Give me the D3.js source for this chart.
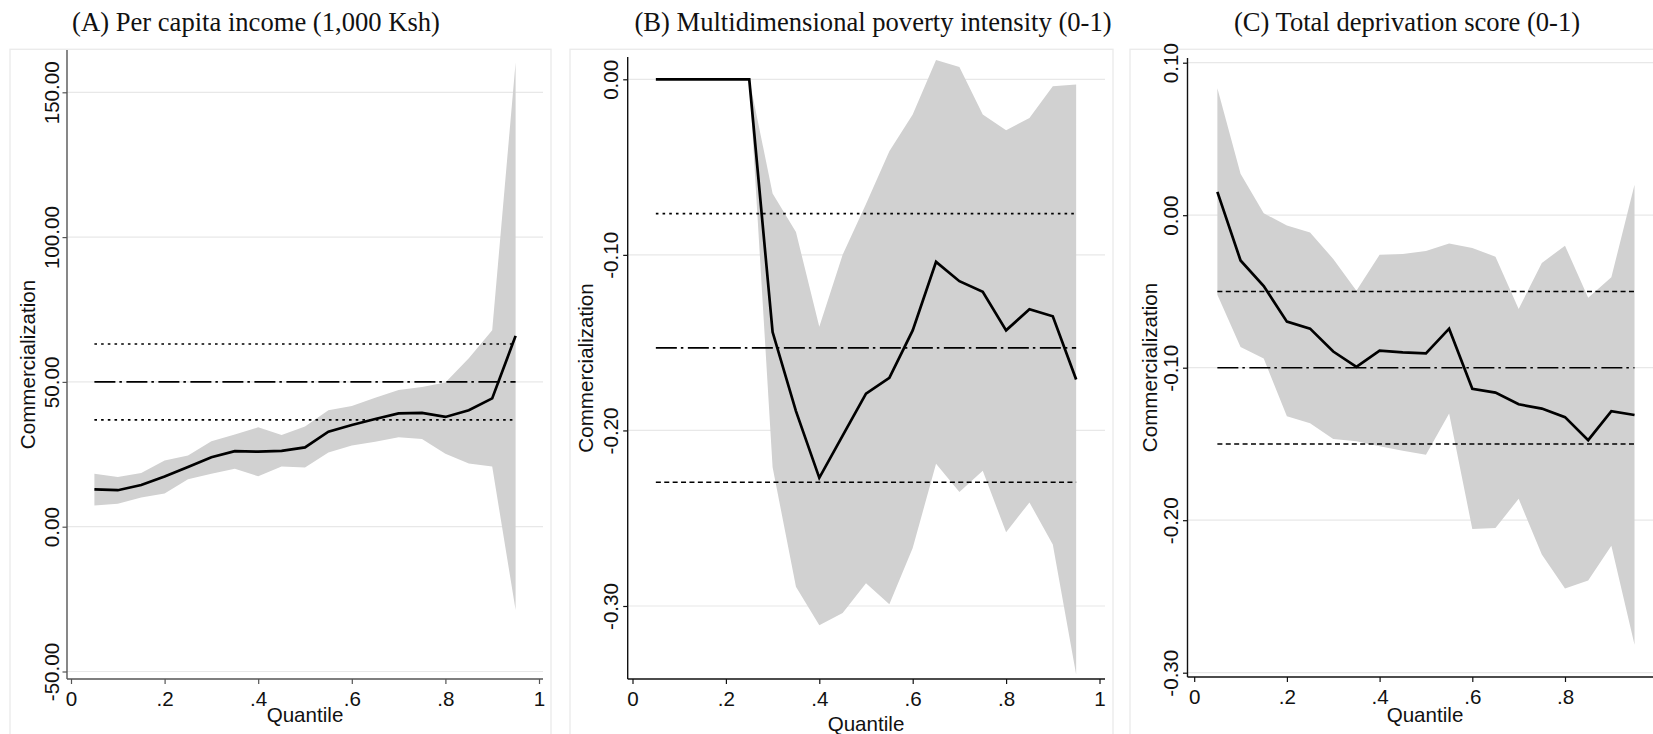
<!DOCTYPE html>
<html>
<head>
<meta charset="utf-8">
<script src="https://cdn.jsdelivr.net/npm/d3@7"></script>
<style>
  html, body { margin: 0; padding: 0; background: #fff; }
  svg { display: block; }
</style>
</head>
<body>
<div id="chart"></div>
<script>
// quantiles at which the regressions were run
const quantiles = [0.05, 0.10, 0.15, 0.20, 0.25, 0.30, 0.35, 0.40, 0.45, 0.50,
                   0.55, 0.60, 0.65, 0.70, 0.75, 0.80, 0.85, 0.90, 0.95];
const xTicks = [0, 0.2, 0.4, 0.6, 0.8, 1];
const xTickLabels = ["0", ".2", ".4", ".6", ".8", "1"];
const panelTitles = [
  "(A) Per capita income (1,000 Ksh)",
  "(B) Multidimensional poverty intensity (0-1)",
  "(C) Total deprivation score (0-1)"
];
const yTitle = "Commercialization";
const xTitle = "Quantile";

// (A) per capita income
const incomeCoef = [12.9, 12.6, 14.4, 17.3, 20.6, 24.0, 26.1, 25.9, 26.2, 27.4,
                    32.8, 35.1, 37.2, 39.1, 39.3, 37.9, 40.2, 44.3, 65.9];
const incomeHi = [18.3, 17.2, 18.5, 22.9, 24.6, 29.5, 31.8, 34.3, 31.7, 34.6,
                  40.2, 41.7, 44.5, 47.2, 48.2, 49.8, 58.2, 67.8, 160.3];
const incomeLo = [7.3, 7.9, 10.1, 11.5, 16.4, 18.3, 20.0, 17.4, 20.8, 20.4,
                  25.6, 28.0, 29.3, 30.9, 30.3, 25.2, 21.8, 20.8, -28.8];
const incomeOls = [36.9, 50.0, 63.1];   // lower CI, estimate, upper CI
const incomeTicks = [-50, 0, 50, 100, 150];

// (B) multidimensional poverty intensity
const mpiCoef = [0, 0, 0, 0, 0, -0.144, -0.189, -0.227, -0.203, -0.179,
                 -0.170, -0.143, -0.104, -0.115, -0.121, -0.143, -0.131, -0.135, -0.171];
const mpiHi = [0, 0, 0, 0, 0, -0.065, -0.087, -0.141, -0.100, -0.071,
               -0.041, -0.020, 0.011, 0.007, -0.020, -0.029, -0.022, -0.004, -0.003];
const mpiLo = [0, 0, 0, 0, 0, -0.221, -0.289, -0.311, -0.304, -0.287,
               -0.299, -0.267, -0.219, -0.235, -0.223, -0.258, -0.241, -0.265, -0.339];
const mpiOls = [-0.2295, -0.153, -0.0765];
const mpiTicks = [-0.3, -0.2, -0.1, 0];

// (C) total deprivation score
const depCoef = [0.0153, -0.0297, -0.0465, -0.0698, -0.0744, -0.0894, -0.0995, -0.0888, -0.0900, -0.0906,
                 -0.0744, -0.1138, -0.1163, -0.1240, -0.1268, -0.1324, -0.1475, -0.1285, -0.1310];
const depHi = [0.0832, 0.0272, 0.0013, -0.0068, -0.0113, -0.0287, -0.0495, -0.0260, -0.0254, -0.0235,
               -0.0186, -0.0215, -0.0272, -0.0615, -0.0313, -0.0200, -0.0542, -0.0407, 0.0199];
const depLo = [-0.0521, -0.0864, -0.0940, -0.1318, -0.1365, -0.1468, -0.1482, -0.1515, -0.1545, -0.1570,
               -0.1300, -0.2057, -0.2051, -0.1860, -0.2225, -0.2448, -0.2396, -0.2167, -0.2816];
const depOls = [-0.15, -0.10, -0.05];
const depTicks = [-0.3, -0.2, -0.1, 0, 0.1];

const DOT = "2.6,4.1", DASH = "5,3.4", DASHDOT = "21,4,2.5,4.5";

const panels = [
  { title: panelTitles[0], coef: incomeCoef, hi: incomeHi, lo: incomeLo, ols: incomeOls, ticks: incomeTicks,
    L: { x0: 10, x1: 551, titleX: 256, axisX: 67, axisTop: 50, axisY: 679, axisEnd: 543,
         xRange: [71, 539], yDom: [-50, 150], yRng: [671.5, 92.3], tickGap: 8, labelX: 35, qX: 305, qY: 721.5,
         dash: [DOT, DASHDOT, DOT], axisColor: "#555" } },
  { title: panelTitles[1], coef: mpiCoef, hi: mpiHi, lo: mpiLo, ols: mpiOls, ticks: mpiTicks,
    L: { x0: 570, x1: 1113, titleX: 873, axisX: 627.7, axisTop: 57, axisY: 679, axisEnd: 1105,
         xRange: [632.5, 1099.5], yDom: [-0.3, 0], yRng: [606, 79.3], tickGap: 10, labelX: 593.3, qX: 866, qY: 730.5,
         dash: [DASH, DASHDOT, DOT], axisColor: "#111" } },
  { title: panelTitles[2], coef: depCoef, hi: depHi, lo: depLo, ols: depOls, ticks: depTicks,
    L: { x0: 1130, x1: 1700, titleX: 1407, axisX: 1187.5, axisTop: 58, axisY: 677, axisEnd: 1662,
         xRange: [1194.2, 1657.7], yDom: [-0.3, 0.1], yRng: [672.7, 62.7], tickGap: 9.5, labelX: 1156.7, qX: 1425, qY: 721.5,
         dash: [DASH, DASHDOT, DASH], axisColor: "#111" } }
];

const width = 1653, height = 734;
const sans = "'Liberation Sans', Arial, sans-serif";
const serif = "'Liberation Serif', 'Times New Roman', serif";
const fmt = d3.formatLocale({ decimal: ".", thousands: ",", grouping: [3], currency: ["", ""], minus: "-" }).format(".2f");

const svg = d3.select("#chart").append("svg")
  .attr("width", width)
  .attr("height", height);

svg.append("rect").attr("width", width).attr("height", height).attr("fill", "#fff");

panels.forEach(p => {
  const L = p.L;
  const x = d3.scaleLinear().domain([0, 1]).range(L.xRange);
  const y = d3.scaleLinear().domain(L.yDom).range(L.yRng);
  const g = svg.append("g");

  // subgraph outline
  g.append("rect")
    .attr("x", L.x0).attr("y", 49.3)
    .attr("width", L.x1 - L.x0).attr("height", 800)
    .attr("fill", "none").attr("stroke", "#ebebeb").attr("stroke-width", 1.4);

  svg.append("text")
    .attr("x", L.titleX).attr("y", 31)
    .attr("text-anchor", "middle")
    .attr("font-family", serif).attr("font-size", 26.6)
    .attr("fill", "#111")
    .text(p.title);

  // gridlines
  g.append("g").selectAll("line").data(p.ticks).join("line")
    .attr("x1", L.axisX).attr("x2", L.axisEnd)
    .attr("y1", d => y(d)).attr("y2", d => y(d))
    .attr("stroke", "#e8e8e8").attr("stroke-width", 1.2);

  // confidence band
  const area = d3.area()
    .x((d, i) => x(quantiles[i]))
    .y0((d, i) => y(p.lo[i]))
    .y1((d, i) => y(p.hi[i]));
  g.append("path").datum(p.coef)
    .attr("d", area)
    .attr("fill", "#d1d1d1");

  // OLS estimate and its CI
  const qMin = quantiles[0], qMax = quantiles[quantiles.length - 1];
  g.append("g").selectAll("line").data(p.ols).join("line")
    .attr("x1", x(qMin)).attr("x2", x(qMax))
    .attr("y1", d => y(d)).attr("y2", d => y(d))
    .attr("stroke", "#000").attr("stroke-width", 1.6)
    .attr("stroke-dasharray", (d, i) => L.dash[i]);

  // quantile coefficients
  const line = d3.line()
    .x((d, i) => x(quantiles[i]))
    .y(d => y(d));
  g.append("path").datum(p.coef)
    .attr("d", line)
    .attr("fill", "none")
    .attr("stroke", "#000")
    .attr("stroke-width", 2.7);

  // y axis
  const ya = g.append("g")
    .attr("transform", `translate(${L.axisX},0)`)
    .call(d3.axisLeft(y).tickValues(p.ticks).tickFormat(fmt).tickSize(4.5).tickSizeOuter(0));
  ya.select(".domain").remove();
  ya.selectAll(".tick line").attr("stroke", L.axisColor).attr("stroke-width", 1.2);
  ya.selectAll(".tick text")
    .attr("transform", "rotate(-90)")
    .attr("x", 0).attr("y", -L.tickGap).attr("dy", 0)
    .attr("text-anchor", "middle")
    .attr("font-family", sans).attr("font-size", 20.6).attr("fill", "#111");
  g.append("line")
    .attr("x1", L.axisX).attr("x2", L.axisX)
    .attr("y1", L.axisTop).attr("y2", L.axisY)
    .attr("stroke", L.axisColor).attr("stroke-width", 1.4);

  // x axis (panel C runs past the right edge, so its "1" is not shown)
  const shownTicks = xTicks.filter(t => x(t) < width - 8);
  const xa = g.append("g")
    .attr("transform", `translate(0,${L.axisY})`)
    .call(d3.axisBottom(x).tickValues(shownTicks)
      .tickFormat(d => xTickLabels[xTicks.indexOf(d)]).tickSize(5).tickSizeOuter(0));
  xa.select(".domain").remove();
  xa.selectAll(".tick line").attr("stroke", L.axisColor).attr("stroke-width", 1.2);
  xa.selectAll(".tick text")
    .attr("y", 26.5).attr("dy", 0)
    .attr("font-family", sans).attr("font-size", 20.6).attr("fill", "#111");
  g.append("line")
    .attr("x1", L.axisX).attr("x2", L.axisEnd)
    .attr("y1", L.axisY).attr("y2", L.axisY)
    .attr("stroke", L.axisColor).attr("stroke-width", 1.4);

  // axis titles
  g.append("text")
    .attr("transform", `translate(${L.labelX},${(L.axisTop + L.axisY) / 2}) rotate(-90)`)
    .attr("text-anchor", "middle")
    .attr("font-family", sans).attr("font-size", 20.6).attr("fill", "#111")
    .text(yTitle);
  g.append("text")
    .attr("x", L.qX).attr("y", L.qY)
    .attr("text-anchor", "middle")
    .attr("font-family", sans).attr("font-size", 20.6).attr("fill", "#111")
    .text(xTitle);
});
</script>
</body>
</html>
